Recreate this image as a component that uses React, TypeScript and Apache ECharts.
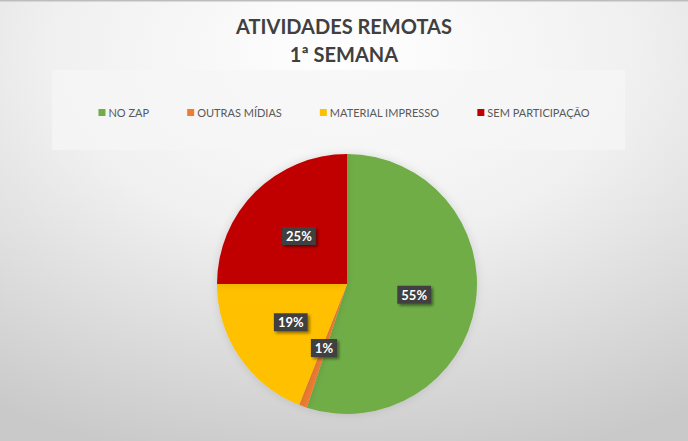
import React, { useEffect, useRef } from "react";
import * as echarts from "echarts";

const categories = ["NO ZAP", "OUTRAS MÍDIAS", "MATERIAL IMPRESSO", "SEM PARTICIPAÇÃO"];
const values = [55, 1, 19, 25];
const colors = ["#70AD47", "#ED7D31", "#FFC000", "#C00000"];
const titleText = "ATIVIDADES REMOTAS\n1ª SEMANA";

export default function App() {
  const ref = useRef<HTMLDivElement>(null);
  useEffect(() => {
    document.body.style.margin = "0";
    const chart = echarts.init(ref.current!, null, { renderer: "svg" });
    const font = "Lato, 'Noto Sans', sans-serif";
    chart.setOption({
      animation: false,
      backgroundColor: {
        type: "radial",
        x: 0.5,
        y: 0.12,
        r: 0.95,
        colorStops: [
          { offset: 0, color: "#ffffff" },
          { offset: 0.45, color: "#f0f0f0" },
          { offset: 1, color: "#c9c9c9" },
        ],
      },
      graphic: [
        {
          type: "rect",
          z: -1,
          shape: { x: 52, y: 70, width: 573, height: 80 },
          style: { fill: "rgba(245,245,245,0.75)" },
        },
        {
          type: "rect",
          z: -1,
          shape: { x: 0, y: 0, width: 688, height: 1.5 },
          style: { fill: "#bdbdbd" },
        },
      ],
      title: {
        text: titleText,
        left: "center",
        top: 7,
        textStyle: {
          fontFamily: font,
          fontSize: 20,
          fontWeight: "bold",
          lineHeight: 28,
          color: "#404040",
        },
      },
      legend: {
        data: categories,
        left: "center",
        top: 102,
        icon: "rect",
        itemWidth: 7,
        itemHeight: 7,
        itemGap: 38,
        textStyle: { fontFamily: font, fontSize: 11, color: "#595959", padding: [0, 0, 0, -2] },
      },
      series: [
        {
          type: "pie",
          center: [347, 284],
          radius: 130,
          startAngle: 90,
          clockwise: true,
          avoidLabelOverlap: false,
          itemStyle: { shadowBlur: 8, shadowColor: "rgba(0,0,0,0.12)" },
          label: {
            show: true,
            position: "inside",
            formatter: "{c}%",
            color: "#ffffff",
            fontFamily: font,
            fontWeight: "bold",
            fontSize: 13,
            backgroundColor: "#404040",
            padding: [3, 4, 2, 4],
            shadowColor: "rgba(0,0,0,0.45)",
            shadowBlur: 3,
            shadowOffsetX: 2,
            shadowOffsetY: 2,
          },
          labelLine: { show: false },
          emphasis: { disabled: true },
          data: categories.map((name, i) => ({
            name,
            value: values[i],
            itemStyle: { color: colors[i] },
          })),
        },
      ],
    });
    return () => chart.dispose();
  }, []);
  return <div ref={ref} style={{ width: 688, height: 441 }} />;
}
